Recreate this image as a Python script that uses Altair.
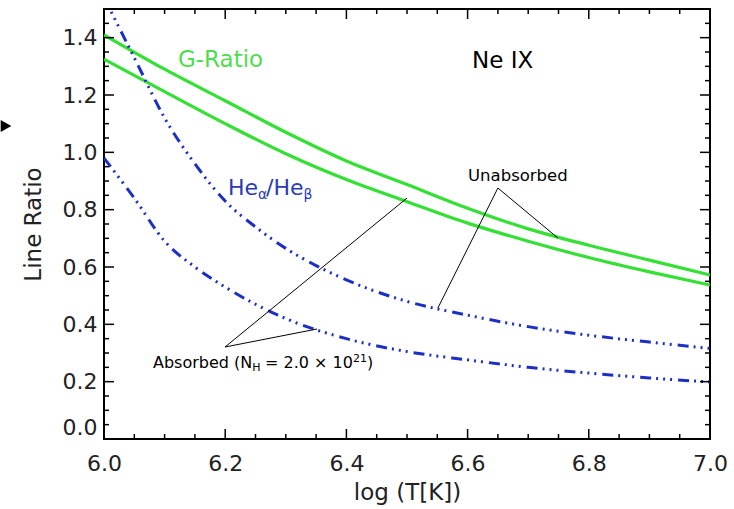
import altair as alt
import pandas as pd

# ---------------- data ----------------
t_green = [6.0, 6.1, 6.2, 6.3, 6.4, 6.5, 6.6, 6.7, 6.8, 6.9, 7.0]
g_unabs = [1.41, 1.29, 1.18, 1.07, 0.97, 0.888, 0.805, 0.733, 0.676, 0.624, 0.572]
g_abs = [1.325, 1.212, 1.10, 0.995, 0.905, 0.828, 0.753, 0.69, 0.633, 0.583, 0.537]

t_he_unabs = [6.0, 6.05, 6.1, 6.15, 6.2, 6.25, 6.3, 6.35, 6.4, 6.5, 6.6, 6.7, 6.8, 6.9, 7.0]
he_unabs = [1.54, 1.33, 1.12, 0.96, 0.83, 0.74, 0.665, 0.605, 0.555, 0.48, 0.432, 0.392, 0.362, 0.338, 0.316]
t_he_abs = [6.0, 6.05, 6.1, 6.15, 6.2, 6.25, 6.3, 6.4, 6.5, 6.6, 6.7, 6.8, 6.9, 7.0]
he_abs = [0.98, 0.84, 0.69, 0.60, 0.53, 0.47, 0.42, 0.35, 0.305, 0.276, 0.25, 0.23, 0.213, 0.199]

x_labels = [6.0, 6.2, 6.4, 6.6, 6.8, 7.0]
y_labels = [0.0, 0.2, 0.4, 0.6, 0.8, 1.0, 1.2, 1.4]
x_minor = [round(6.0 + 0.05 * i, 2) for i in range(21) if i % 4]
y_minor = [round(0.05 * i, 2) for i in range(30) if i % 4]

# annotation texts (data coordinates)
ann_x = [6.1221, 6.6073, 6.6007,
         6.2046, 6.2541, 6.2673, 6.3292,
         6.08086, 6.24472, 6.26568, 6.41089, 6.43399]
ann_y = [1.2975, 1.294, 0.8999,
         0.851, 0.837, 0.851, 0.837,
         0.2476, 0.2372, 0.2476, 0.2686, 0.2476]
ann_text = ["G-Ratio", "Ne IX", "Unabsorbed",
            "He", "α", "/He", "β",
            "Absorbed (N", "H", "= 2.0 × 10", "21", ")"]
ann_size = [23, 23, 16.5,
            22, 14, 22, 14,
            16, 11, 16, 11, 16]
ann_color = ["#4fdc4f", "black", "black",
             "#2a3bb5", "#2a3bb5", "#2a3bb5", "#2a3bb5",
             "black", "black", "black", "black", "black"]

# leader lines
lead_x = [6.650, 6.650, 6.1997, 6.1997]
lead_y = [0.8755, 0.8755, 0.3209, 0.3209]
lead_x2 = [6.749, 6.551, 6.500, 6.3515]
lead_y2 = [0.701, 0.457, 0.8406, 0.3837]

# ---------------- build tables ----------------
green = pd.concat([
    pd.DataFrame({"t": t_green, "r": g_unabs, "s": "G unabsorbed"}),
    pd.DataFrame({"t": t_green, "r": g_abs, "s": "G absorbed"}),
])
blue = pd.concat([
    pd.DataFrame({"t": t_he_unabs, "r": he_unabs, "s": "He unabsorbed"}),
    pd.DataFrame({"t": t_he_abs, "r": he_abs, "s": "He absorbed"}),
])
ann = pd.DataFrame({"x": ann_x, "y": ann_y, "text": ann_text,
                    "size": ann_size, "color": ann_color})
leads = pd.DataFrame({"x": lead_x, "y": lead_y, "x2": lead_x2, "y2": lead_y2})

W, H = 606, 430
FONT = "DejaVu Sans"
xs = alt.Scale(domain=[6.0, 7.0], nice=False, zero=False)
ys = alt.Scale(domain=[0.0, 1.5], nice=False, zero=False)

x_axis = alt.Axis(values=x_labels, format=".1f", title="log (T[K])", grid=False,
                  domain=False, ticks=False, labelFontSize=22, labelPadding=14,
                  labelFlush=False, labelOverlap=False,
                  titleFontSize=23, titleFontWeight="normal", titlePadding=7,
                  labelColor="#222", titleColor="#222", labelFont=FONT, titleFont=FONT)
y_axis = alt.Axis(values=y_labels, format=".1f", title="Line Ratio", grid=False,
                  domain=False, ticks=False, labelFontSize=22, labelPadding=7,
                  labelFlush=True, labelOverlap=False,
                  titleFontSize=23, titleFontWeight="normal", titlePadding=17,
                  labelColor="#222", titleColor="#222", labelFont=FONT, titleFont=FONT)


def X(field):
    return alt.X(field, scale=xs, axis=x_axis)


def Y(field):
    return alt.Y(field, scale=ys, axis=y_axis)


green_lines = alt.Chart(green).mark_line(
    color="#33e033", strokeWidth=3.2, interpolate="monotone", clip=True
).encode(x=X("t:Q"), y=Y("r:Q"), detail="s:N")

blue_lines = alt.Chart(blue).mark_line(
    color="#1c2fc4", strokeWidth=3, interpolate="monotone", clip=True,
    strokeDash=[11, 5, 2, 5, 2, 5, 2, 6], strokeCap="butt"
).encode(x=X("t:Q"), y=Y("r:Q"), detail="s:N")

lead_rules = alt.Chart(leads).mark_rule(color="black", strokeWidth=1).encode(
    x=X("x:Q"), y=Y("y:Q"), x2="x2:Q", y2="y2:Q",
)

texts = alt.Chart(ann).mark_text(align="left", baseline="alphabetic", font=FONT).encode(
    x=X("x:Q"), y=Y("y:Q"),
    text="text:N",
    size=alt.Size("size:Q", scale=None, legend=None),
    color=alt.Color("color:N", scale=None, legend=None),
)


def xticks(vals, length):
    df = pd.DataFrame({"v": vals})
    bottom = alt.Chart(df).mark_rule(color="black", strokeWidth=1.5).encode(
        x=X("v:Q"), y=alt.value(H), y2=alt.value(H - length))
    top = alt.Chart(df).mark_rule(color="black", strokeWidth=1.5).encode(
        x=X("v:Q"), y=alt.value(0), y2=alt.value(length))
    return [bottom, top]


def yticks(vals, length):
    df = pd.DataFrame({"v": vals})
    left = alt.Chart(df).mark_rule(color="black", strokeWidth=1.5).encode(
        y=Y("v:Q"), x=alt.value(0), x2=alt.value(length))
    right = alt.Chart(df).mark_rule(color="black", strokeWidth=1.5).encode(
        y=Y("v:Q"), x=alt.value(W), x2=alt.value(W - length))
    return [left, right]


tick_layers = (xticks(x_labels, 10) + xticks(x_minor, 5)
               + yticks(y_labels, 10) + yticks(y_minor, 5))

arrow = alt.Chart(pd.DataFrame({"a": [0]})).mark_point(
    shape="triangle-right", filled=True, color="black", size=150, opacity=1
).encode(x=alt.value(-98), y=alt.value(117))

chart = alt.layer(
    green_lines, blue_lines, lead_rules, texts, *tick_layers, arrow
).properties(
    width=W, height=H,
    autosize=alt.AutoSizeParams(type="none"),
    padding={"left": 104, "top": 9, "right": 24, "bottom": 70},
).configure(font=FONT, background="white").configure_view(
    stroke="black", strokeWidth=2
)

chart.save("out.html", embed_options={"renderer": "svg", "actions": False})
